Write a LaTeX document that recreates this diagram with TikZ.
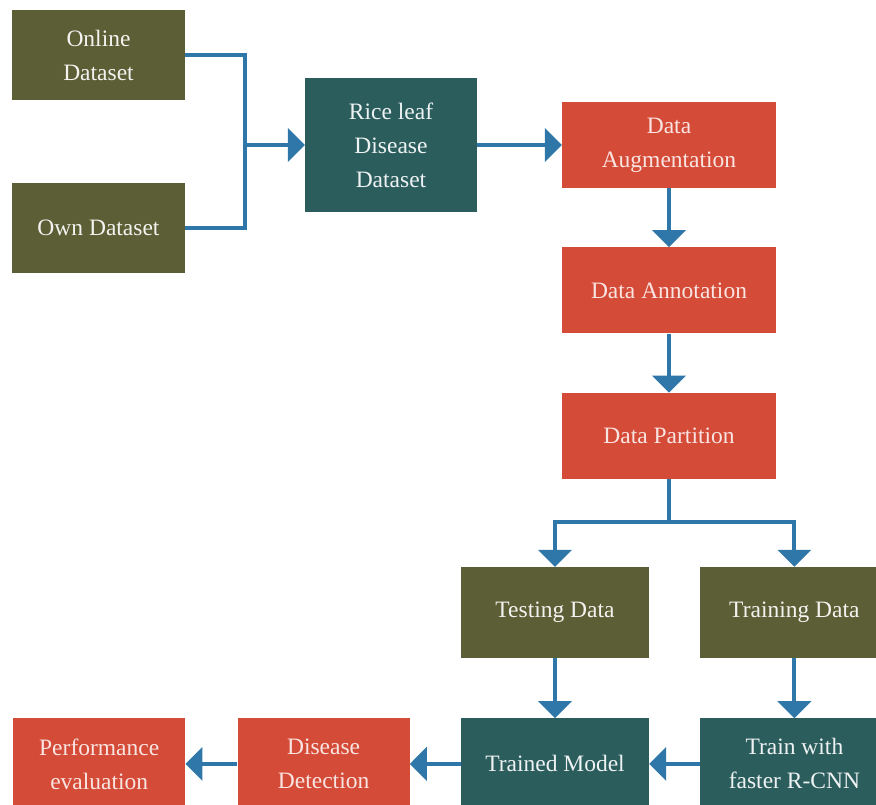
\documentclass[tikz,border=0pt]{standalone}
\usepackage{fontspec}
\newfontfamily\boxfont{Liberation Serif}
\definecolor{riceOlive}{HTML}{5C5F35}
\definecolor{riceTeal}{HTML}{2C5D5D}
\definecolor{riceRed}{HTML}{D44B38}
\definecolor{riceBlue}{HTML}{2E77A8}
\usetikzlibrary{positioning,arrows.meta}

\begin{document}
\begin{tikzpicture}[
                x=1pt, y=-1pt,
                flowbox/.style={inner sep=2pt, align=center,
                                font=\boxfont\fontsize{23.5}{34}\selectfont},
                olivebox/.style={flowbox, fill=riceOlive, text=riceOlive!8!white,
                                 minimum width=173pt, minimum height=90pt},
                tealbox/.style={flowbox, fill=riceTeal, text=riceTeal!8!white},
                redbox/.style={flowbox, fill=riceRed, text=riceRed!15!white},
                arrow/.style={-{Triangle[length=17pt,width=33pt]}, line width=4pt, color=riceBlue},
                link/.style={line width=4pt, color=riceBlue}
            ]
                \useasboundingbox (0,0) rectangle (876,805);
                \clip (0,0) rectangle (876,805);

                % sources
                \node[olivebox] (online) at (98.5,55) {Online\\Dataset};
                \node[olivebox] (own) at (98.5,228) {Own Dataset};
                \node[tealbox, minimum width=172pt, minimum height=134pt] (rice) at (391,145)
                     {Rice leaf\\Disease\\Dataset};

                % preparation column
                \node[redbox, minimum width=214pt, minimum height=86pt] (aug) at (669,145)
                     {Data\\Augmentation};
                \node[redbox, minimum width=214pt, minimum height=86pt, below=59pt of aug] (annot)
                     {Data Annotation};
                \node[redbox, minimum width=214pt, minimum height=86pt, below=59pt of annot] (part)
                     {Data Partition};

                % split
                \node[olivebox, minimum width=188pt, minimum height=91pt] (test) at (555,612.5)
                     {Testing Data};
                \node[olivebox, minimum width=188pt, minimum height=91pt, right=51pt of test] (train)
                     {Training Data};

                % bottom row
                \node[tealbox, minimum width=188pt, minimum height=91pt, below=60pt of test] (model)
                     {Trained Model};
                \node[tealbox, minimum width=188pt, minimum height=91pt, below=60pt of train] (rcnn)
                     {Train with\\faster R-CNN};
                \node[redbox, minimum width=172pt, minimum height=91pt, left=51pt of model] (detect)
                     {Disease\\Detection};
                \node[redbox, minimum width=172pt, minimum height=91pt, left=52pt of detect] (perf)
                     {Performance\\evaluation};

                \coordinate (join) at (245,145);
                \coordinate (split) at (669,522);

                \draw[link] (online.east) -| (join) |- (own.east);
                \draw[arrow] (join) -- (rice.west);
                \draw[arrow] (rice.east) -- (aug.west);
                \draw[arrow] (aug) -- (annot);
                \draw[arrow] (annot) -- (part);
                \draw[link] (part.south) -- (split);
                \draw[arrow] (split) -| (test.north);
                \draw[arrow] (split) -| (train.north);
                \draw[arrow] (test) -- (model);
                \draw[arrow] (train) -- (rcnn);
                \draw[arrow] (rcnn) -- (model);
                \draw[arrow] (model) -- (detect);
                \draw[arrow] (detect) -- (perf);

            \end{tikzpicture}
\end{document}
